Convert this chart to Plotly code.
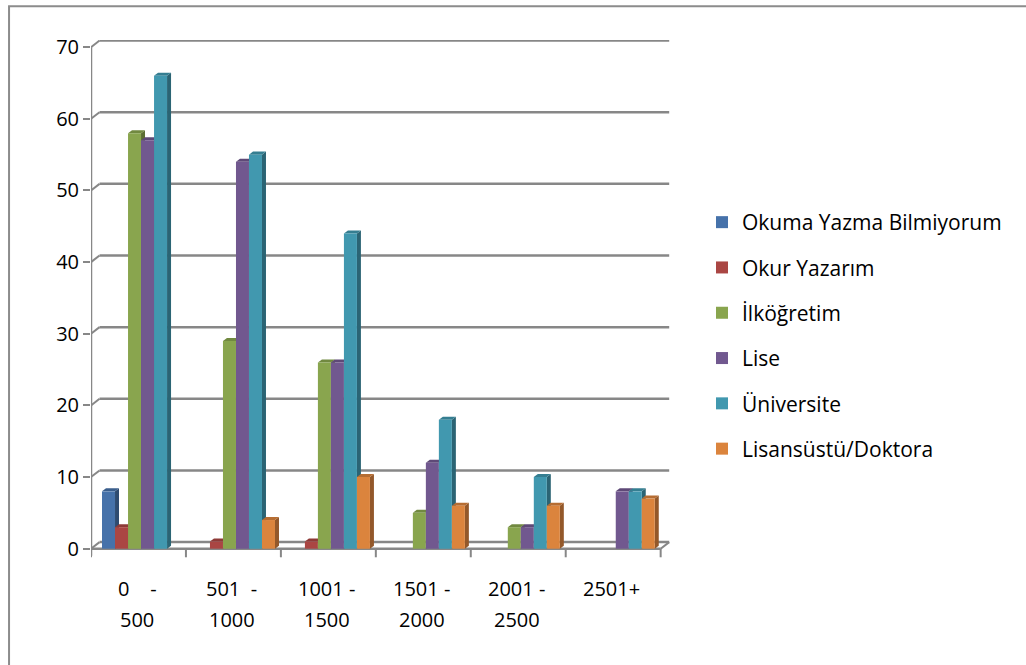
import plotly.graph_objects as go

categories = ["0 - 500", "501 - 1000", "1001 - 1500", "1501 - 2000", "2001 - 2500", "2501+"]
label_line1 = ["0\u00a0\u00a0\u00a0\u00a0-", "501\u00a0\u00a0-", "1001 -", "1501 -", "2001 -", "2501+"]
label_line2 = ["500", "1000", "1500", "2000", "2500", ""]

series_names = ["Okuma Yazma Bilmiyorum", "Okur Yazarım", "İlköğretim", "Lise", "Üniversite", "Lisansüstü/Doktora"]
okuma = [8, 0, 0, 0, 0, 0]
okur = [3, 1, 1, 0, 0, 0]
ilkogretim = [58, 29, 26, 5, 3, 0]
lise = [57, 54, 26, 12, 3, 8]
universite = [66, 55, 44, 18, 10, 8]
lisansustu = [0, 4, 10, 6, 6, 7]
series_values = [okuma, okur, ilkogretim, lise, universite, lisansustu]

front_colors = ["#4672AA", "#AA4643", "#89A54E", "#71588F", "#4198AF", "#DB843D"]
side_colors = ["#2E4B70", "#72302D", "#5B6E33", "#4A3A5E", "#2B6474", "#93582A"]
top_colors = ["#3A5E8C", "#8E3A37", "#718940", "#5E4977", "#357E91", "#B66D32"]

y_ticks = [0, 10, 20, 30, 40, 50, 60, 70]

# geometry (axis units)
BAR_W = 0.137
GROUP_OFF = 0.116
DX, DY = 0.042, 0.42          # bar depth
WDX, WDY = 0.09, 0.92         # wall depth
GRID = "#878787"

W, H = 1026, 665
# pixel positions of x=0..6 and y=0..70 (front plane)
X0PX, X6PX = 91, 661
Y0PX, Y70PX = 549, 47
XR = [0, 6.13]
YR = [-1.3, 71.0]
ppx = (X6PX - X0PX) / 6
ppy = (Y0PX - Y70PX) / 70
PL = X0PX + XR[0] * ppx
PR = X0PX + XR[1] * ppx
PT = Y0PX - YR[1] * ppy
PB = Y0PX - YR[0] * ppy

def py(pix):
    return (PB - pix) / (PB - PT)

def px(pix):
    return (pix - PL) / (PR - PL)

fig = go.Figure()
shapes = []

for v in y_ticks:
    shapes.append(dict(type="line", xref="x", yref="y", x0=WDX, x1=6 + WDX, y0=v + WDY, y1=v + WDY,
                       line=dict(color=GRID, width=2.5), layer="below"))
    shapes.append(dict(type="line", xref="x", yref="y", x0=0, x1=WDX, y0=v, y1=v + WDY,
                       line=dict(color=GRID, width=2), layer="below"))
# front axis line
shapes.append(dict(type="line", xref="x", yref="y", x0=0, x1=0, y0=-1.0, y1=70,
                   line=dict(color=GRID, width=2.5), layer="below"))
# floor front edge + right edge
shapes.append(dict(type="line", xref="x", yref="y", x0=0, x1=6, y0=0, y1=0,
                   line=dict(color=GRID, width=2.5), layer="below"))
shapes.append(dict(type="line", xref="x", yref="y", x0=6, x1=6 + WDX, y0=0, y1=WDY,
                   line=dict(color=GRID, width=2), layer="below"))
for c in range(7):
    shapes.append(dict(type="line", xref="x", yref="y", x0=c, x1=c, y0=0, y1=-1.2,
                       line=dict(color=GRID, width=2), layer="below"))

for si, (name, vals) in enumerate(zip(series_names, series_values)):
    xs = [c + GROUP_OFF + BAR_W * (si + 0.5) for c in range(len(categories))]
    fig.add_trace(go.Bar(
        x=xs, y=vals, width=BAR_W, name=name, legendgroup=name,
        marker=dict(color=front_colors[si], line=dict(width=0)),
        hoverinfo="name+y",
    ))
    for x, v in zip(xs, vals):
        if v <= 0:
            continue
        xr = x + BAR_W / 2
        xl = x - BAR_W / 2
        shapes.append(dict(type="path", xref="x", yref="y",
                           path=f"M{xr},0 L{xr+DX},{DY} L{xr+DX},{v+DY} L{xr},{v} Z",
                           fillcolor=side_colors[si], line=dict(width=0), layer="below"))
        shapes.append(dict(type="path", xref="x", yref="y",
                           path=f"M{xl},{v} L{xl+DX},{v+DY} L{xr+DX},{v+DY} L{xr},{v} Z",
                           fillcolor=top_colors[si], line=dict(width=0), layer="below"))

# outer border (left and top edges visible)
shapes.append(dict(type="rect", xref="paper", yref="paper",
                   x0=px(9), x1=px(1040), y0=py(680), y1=py(6),
                   line=dict(color="#8C8C8C", width=2), layer="below"))

annotations = []
for c, (l1, l2) in enumerate(zip(label_line1, label_line2)):
    annotations.append(dict(x=c + 0.485, y=py(589), xref="x", yref="paper", text=l1, showarrow=False,
                            yanchor="middle", font=dict(size=20, color="#000000")))
    if l2:
        annotations.append(dict(x=c + 0.485, y=py(620), xref="x", yref="paper", text=l2, showarrow=False,
                                yanchor="middle", font=dict(size=20, color="#000000")))

fig.update_layout(
    width=W, height=H,
    margin=dict(l=PL, r=W - PR, t=PT, b=H - PB, autoexpand=False),
    paper_bgcolor="white", plot_bgcolor="white",
    font=dict(family="Open Sans, Lato, sans-serif", size=20, color="#000000"),
    barmode="overlay",
    showlegend=True,
    legend=dict(x=702 / W, y=1 - 202 / H, xref="container", yref="container",
                xanchor="left", yanchor="top", traceorder="grouped", tracegroupgap=15,
                font=dict(size=21, color="#000000"), bgcolor="rgba(0,0,0,0)"),
    xaxis=dict(range=XR, showgrid=False, zeroline=False, showticklabels=False,
               showline=False, ticks="", fixedrange=True),
    yaxis=dict(range=YR, tickvals=y_ticks, showgrid=False, zeroline=False,
               showline=False, ticks="outside", ticklen=7,
               tickwidth=2, tickcolor=GRID, tickfont=dict(size=20), fixedrange=True),
    shapes=shapes,
    annotations=annotations,
)

fig.write_html("out.html", config={"displayModeBar": False},
               post_script="document.body.style.margin='0';document.body.style.padding='0';")
